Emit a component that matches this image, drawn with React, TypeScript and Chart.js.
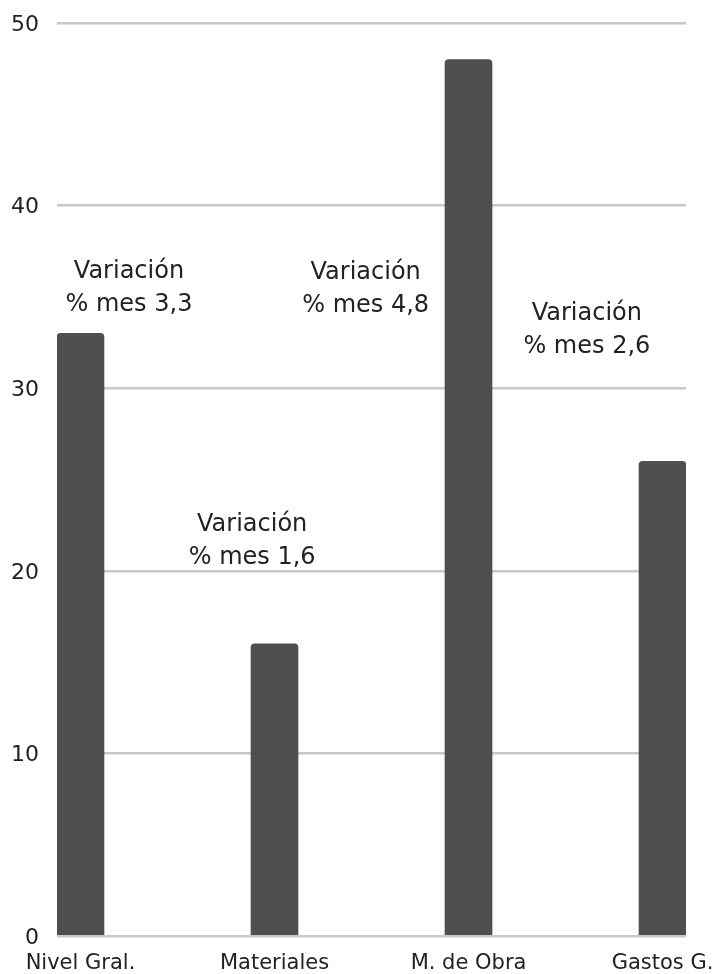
import React, { useEffect, useRef } from "react";
import { Chart, registerables } from "chart.js";

Chart.register(...registerables);

const categories: string[] = ["Nivel Gral.", "Materiales", "M. de Obra", "Gastos G."];
const values: number[] = [33, 16, 48, 26];
const monthlyVariation: number[] = [3.3, 1.6, 4.8, 2.6];
// annotation anchors, in data units (x = category index, y = value)
const annotationX: number[] = [0.25, 0.885, 1.47, 2.61];
const annotationY: number[] = [36.4, 22.5, 36.3, 34.05];
const yTicks: number[] = [0, 10, 20, 30, 40, 50];

const FONT = "'DejaVu Sans', sans-serif";
const TEXT = "#222222";

export default function App() {
  const ref = useRef<HTMLCanvasElement | null>(null);

  useEffect(() => {
    if (!ref.current) return;
    const annotationPlugin = {
      id: "variationLabels",
      afterDatasetsDraw(chart: any) {
        const { ctx, scales } = chart;
        ctx.save();
        ctx.fillStyle = TEXT;
        ctx.font = `24px ${FONT}`;
        ctx.textAlign = "center";
        ctx.textBaseline = "middle";
        monthlyVariation.forEach((v, i) => {
          const px = scales.x.getPixelForValue(annotationX[i]);
          const py = scales.y.getPixelForValue(annotationY[i]);
          ctx.fillText("Variación", px, py);
          ctx.fillText(`% mes ${v.toFixed(1).replace(".", ",")}`, px, py + 33);
        });
        ctx.restore();
      },
    };

    const chart = new Chart(ref.current, {
      type: "bar",
      data: {
        datasets: [
          {
            data: values.map((v, i) => ({ x: i, y: v })),
            backgroundColor: "#4f4f4f",
            barThickness: 47,
            borderRadius: 4,
            borderSkipped: "start",
          },
        ],
      },
      options: {
        responsive: false,
        animation: false,
        layout: { padding: { top: 23, right: 33, bottom: 0, left: 0 } },
        plugins: { legend: { display: false }, tooltip: { enabled: false } },
        scales: {
          x: {
            type: "linear",
            offset: false,
            min: -0.121,
            max: 3.121,
            grid: {
              display: true,
              drawOnChartArea: false,
              drawTicks: true,
              tickLength: 15,
              color: "rgba(0,0,0,0)",
              tickColor: "rgba(0,0,0,0)",
            },
            border: { display: false },
            afterFit: (s: any) => {
              s.height = 38;
            },
            ticks: {
              stepSize: 1,
              includeBounds: false,
              autoSkip: false,
              maxRotation: 0,
              padding: 0,
              color: TEXT,
              font: { family: FONT, size: 21 },
              callback: (v: any) =>
                Number.isInteger(v) && categories[v] !== undefined ? categories[v] : "",
            },
          },
          y: {
            min: yTicks[0],
            max: yTicks[yTicks.length - 1],
            afterFit: (s: any) => {
              s.width = 57;
            },
            grid: {
              color: "#c8c8c8",
              lineWidth: 2.5,
              drawTicks: true,
              tickLength: 14,
              tickColor: "rgba(0,0,0,0)",
            },
            border: { display: false },
            ticks: {
              stepSize: 10,
              padding: 4,
              labelOffset: 2,
              color: TEXT,
              font: { family: FONT, size: 22 },
            },
          },
        },
      },
      plugins: [annotationPlugin],
    });
    return () => chart.destroy();
  }, []);

  return (
    <div style={{ position: "fixed", left: 0, top: 0, width: 719, height: 974, background: "#fff" }}>
      <canvas ref={ref} width={719} height={974} style={{ display: "block" }} />
    </div>
  );
}
